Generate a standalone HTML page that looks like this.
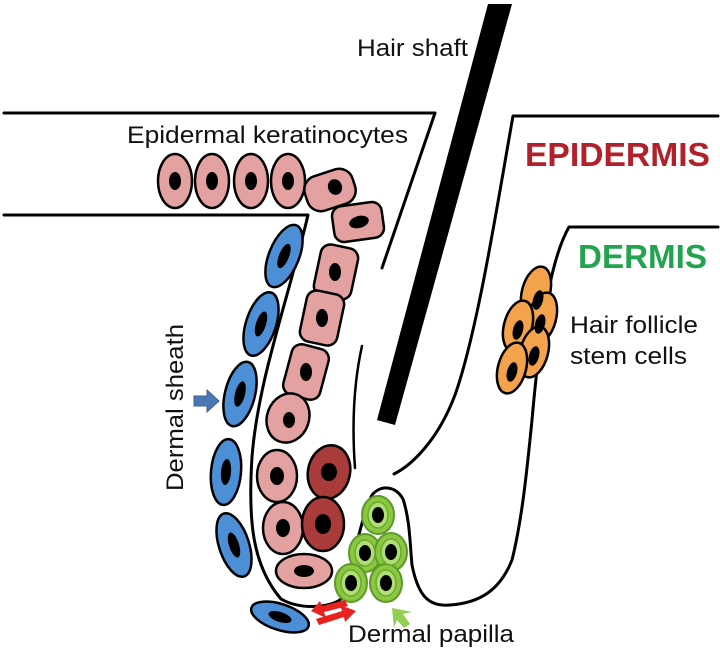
<!DOCTYPE html>
<html><head><meta charset="utf-8"><style>
html,body{margin:0;padding:0;background:#fff;}
svg{display:block;}
text{font-family:"Liberation Sans",Arial,sans-serif;}
</style></head><body>
<svg width="720" height="650" viewBox="0 0 720 650" xmlns="http://www.w3.org/2000/svg">
<g fill="none" stroke="#000" stroke-width="3" stroke-linejoin="round" stroke-linecap="round">
  <path d="M4,113 L435,113 L382,268"/>
  <path d="M4,215 L308,215 C288,300 258,380 252,457 C248,520 252,565 281,599 C300,610 330,608 341,599 C352,570 360,520 372,495 C380,485 395,485 403,499 C410,520 410,545 412,565 C418,595 428,607 450,605 C480,603 500,590 512,560 C522,520 527,470 532,420 C540,330 550,260 569,227 L718,227"/>
  <path d="M718,116 L513,116 C498,200 478,330 455,395 C438,440 412,465 394,474"/>
  <path d="M362,346 Q350,400 355,468" stroke-width="2.5"/>
</g>
<polygon points="488,4 512,4 395,425 377,420" fill="#000"/>

<g stroke="#000" stroke-width="2.5" fill="#e4a1a1">
  <ellipse cx="175" cy="181" rx="17" ry="27"/>
  <ellipse cx="212" cy="181" rx="17" ry="27"/>
  <ellipse cx="251" cy="181" rx="17" ry="27"/>
  <ellipse cx="288" cy="181" rx="17" ry="27"/>
  <rect x="-25" y="-18" width="50" height="36" rx="14" transform="translate(330,190) rotate(-18)"/>
  <rect x="-25" y="-18" width="50" height="36" rx="10" transform="translate(358,222) rotate(-8)"/>
  <rect x="-19" y="-26" width="38" height="52" rx="10" transform="translate(336,272) rotate(12)"/>
  <rect x="-19" y="-26" width="38" height="52" rx="10" transform="translate(322,318) rotate(12)"/>
  <rect x="-19" y="-26" width="38" height="52" rx="10" transform="translate(306,372) rotate(15)"/>
  <ellipse cx="0" cy="0" rx="21" ry="25" transform="translate(288,418) rotate(20)"/>
  <ellipse cx="277" cy="476" rx="20" ry="26"/>
  <ellipse cx="283" cy="528" rx="20" ry="26"/>
  <ellipse cx="304" cy="571" rx="28" ry="17"/>
</g>
<g stroke="#000" stroke-width="2.5" fill="#a93b3b">
  <ellipse cx="0" cy="0" rx="21" ry="27" transform="translate(329,472) rotate(12)"/>
  <ellipse cx="323" cy="524" rx="21" ry="27"/>
</g>
<g fill="#000">
  <ellipse cx="175" cy="181" rx="6" ry="9"/>
  <ellipse cx="212" cy="181" rx="6" ry="9"/>
  <ellipse cx="251" cy="181" rx="6" ry="9"/>
  <ellipse cx="288" cy="181" rx="6" ry="9"/>
  <ellipse cx="0" cy="0" rx="7" ry="8" transform="translate(335,187) rotate(-20)"/>
  <ellipse cx="0" cy="0" rx="10" ry="6" transform="translate(359,222) rotate(-15)"/>
  <ellipse cx="335" cy="272" rx="6" ry="9"/>
  <ellipse cx="322" cy="318" rx="6" ry="9"/>
  <ellipse cx="306" cy="372" rx="6" ry="9"/>
  <ellipse cx="289" cy="420" rx="6" ry="8"/>
  <ellipse cx="277" cy="476" rx="7" ry="9"/>
  <ellipse cx="283" cy="528" rx="7" ry="9"/>
  <ellipse cx="304" cy="571" rx="10" ry="6"/>
  <ellipse cx="329" cy="472" rx="8" ry="9"/>
  <ellipse cx="323" cy="524" rx="8" ry="10"/>
</g>

<g stroke="#000" stroke-width="2.5" fill="#4c8fd6">
  <ellipse cx="0" cy="0" rx="15" ry="33" transform="translate(284,256) rotate(22)"/>
  <ellipse cx="0" cy="0" rx="15" ry="33" transform="translate(261,324) rotate(18)"/>
  <ellipse cx="0" cy="0" rx="15" ry="33" transform="translate(240,394) rotate(14)"/>
  <ellipse cx="0" cy="0" rx="15" ry="33" transform="translate(226,472) rotate(5)"/>
  <ellipse cx="0" cy="0" rx="15" ry="33" transform="translate(234,545) rotate(-18)"/>
  <ellipse cx="0" cy="0" rx="30" ry="13" transform="translate(280,617) rotate(18)"/>
</g>
<g fill="#000">
  <ellipse cx="0" cy="0" rx="5" ry="13" transform="translate(284,256) rotate(22)"/>
  <ellipse cx="0" cy="0" rx="5" ry="13" transform="translate(261,324) rotate(18)"/>
  <ellipse cx="0" cy="0" rx="5" ry="13" transform="translate(240,394) rotate(14)"/>
  <ellipse cx="0" cy="0" rx="5" ry="13" transform="translate(226,472) rotate(5)"/>
  <ellipse cx="0" cy="0" rx="5" ry="13" transform="translate(234,545) rotate(-18)"/>
  <ellipse cx="0" cy="0" rx="12" ry="5" transform="translate(280,617) rotate(18)"/>
</g>

<g stroke="#5c9a2c" stroke-width="2" fill="#8cc83f">
  <ellipse cx="378" cy="515" rx="16" ry="19"/>
  <ellipse cx="365" cy="553" rx="16" ry="19"/>
  <ellipse cx="391" cy="552" rx="16" ry="19"/>
  <ellipse cx="351" cy="583" rx="16" ry="19"/>
  <ellipse cx="386" cy="583" rx="16" ry="19"/>
</g>
<g stroke="#6aa836" stroke-width="1.5" fill="#b0de73">
  <ellipse cx="378" cy="515" rx="10" ry="13"/>
  <ellipse cx="365" cy="553" rx="10" ry="13"/>
  <ellipse cx="391" cy="552" rx="10" ry="13"/>
  <ellipse cx="351" cy="583" rx="10" ry="13"/>
  <ellipse cx="386" cy="583" rx="10" ry="13"/>
</g>
<g fill="#000">
  <ellipse cx="378" cy="515" rx="6" ry="8"/>
  <ellipse cx="365" cy="553" rx="6" ry="8"/>
  <ellipse cx="391" cy="552" rx="6" ry="8"/>
  <ellipse cx="351" cy="583" rx="6" ry="8"/>
  <ellipse cx="386" cy="583" rx="6" ry="8"/>
</g>

<g stroke="#000" stroke-width="2.5" fill="#f5a24d">
  <ellipse cx="0" cy="0" rx="14" ry="26" transform="translate(536,292) rotate(15)"/>
  <ellipse cx="0" cy="0" rx="14" ry="26" transform="translate(542,318) rotate(15)"/>
  <ellipse cx="0" cy="0" rx="14" ry="26" transform="translate(518,326) rotate(15)"/>
  <ellipse cx="0" cy="0" rx="14" ry="26" transform="translate(534,352) rotate(15)"/>
  <ellipse cx="0" cy="0" rx="14" ry="26" transform="translate(512,368) rotate(15)"/>
</g>
<g fill="#000">
  <ellipse cx="0" cy="0" rx="5" ry="10" transform="translate(538,300) rotate(15)"/>
  <ellipse cx="0" cy="0" rx="5" ry="10" transform="translate(540,324) rotate(15)"/>
  <ellipse cx="0" cy="0" rx="5" ry="10" transform="translate(518,330) rotate(15)"/>
  <ellipse cx="0" cy="0" rx="5" ry="10" transform="translate(534,356) rotate(15)"/>
  <ellipse cx="0" cy="0" rx="5" ry="10" transform="translate(512,372) rotate(15)"/>
</g>

<polygon points="194,396 207,396 207,390 219,401 207,412 207,406 194,406" fill="#4a78b5" stroke="#3a6090" stroke-width="1"/>
<polygon points="345,600 348,606 324,612 326,618 311,611 320,601 322,606" fill="#e8221e"/>
<polygon points="316,619 342,611 340,605 356,611 345,622 344,617 319,625" fill="#e8221e"/>
<polygon points="412,612 403,614 410,624 404,628 397,620 394,628 392,608" fill="#93cf52"/>

<text x="357" y="56" font-size="24" textLength="111" lengthAdjust="spacingAndGlyphs" fill="#111">Hair shaft</text>
<text x="127" y="143" font-size="24" textLength="281" lengthAdjust="spacingAndGlyphs" fill="#111">Epidermal keratinocytes</text>
<text x="525" y="166" font-size="33" font-weight="bold" textLength="185" lengthAdjust="spacingAndGlyphs" fill="#b1202b">EPIDERMIS</text>
<text x="578" y="268" font-size="33" font-weight="bold" textLength="129" lengthAdjust="spacingAndGlyphs" fill="#22a34f">DERMIS</text>
<text x="570" y="333" font-size="24" textLength="128" lengthAdjust="spacingAndGlyphs" fill="#111">Hair follicle</text>
<text x="570" y="364" font-size="24" textLength="117" lengthAdjust="spacingAndGlyphs" fill="#111">stem cells</text>
<text x="0" y="0" font-size="24" textLength="167" lengthAdjust="spacingAndGlyphs" fill="#111" transform="translate(183,491) rotate(-90)">Dermal sheath</text>
<text x="348" y="642" font-size="24" textLength="166" lengthAdjust="spacingAndGlyphs" fill="#111">Dermal papilla</text>
</svg>
</body></html>
